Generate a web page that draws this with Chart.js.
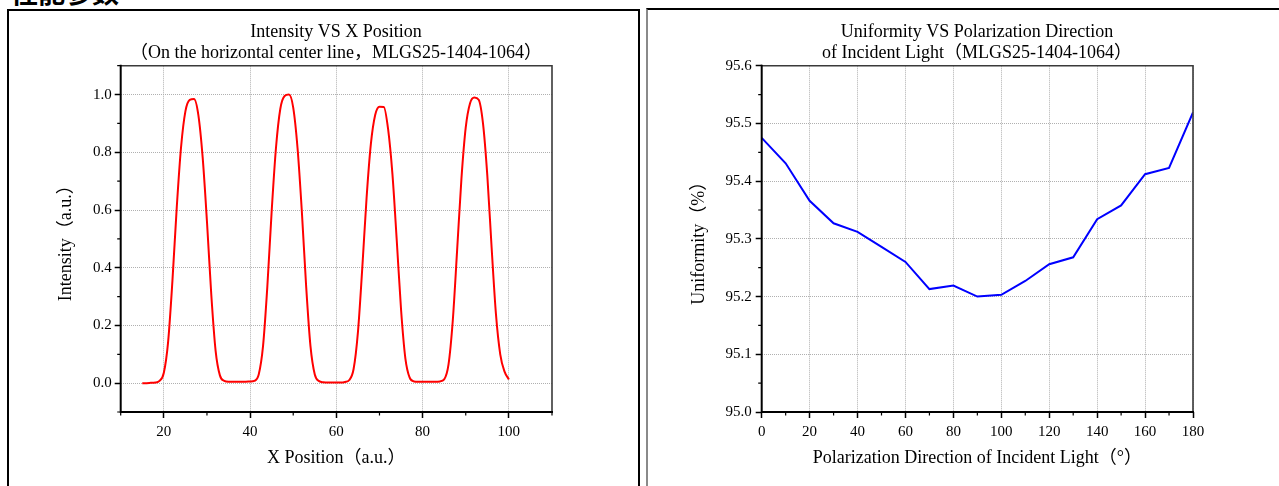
<!DOCTYPE html>
<html><head><meta charset="utf-8">
<script src="https://cdn.jsdelivr.net/npm/chart.js@4.4.1/dist/chart.umd.min.js"></script>
<style>
html,body{margin:0;padding:0;width:1279px;height:486px;overflow:hidden;background:#fff;}
#hdr{position:absolute;left:11px;top:-22px;font:bold 27px/27px "Noto Sans CJK SC",sans-serif;color:#000;white-space:nowrap;}
.panel{position:absolute;box-sizing:border-box;}
#p1{left:7px;top:9px;width:633px;height:520px;border:2px solid #000;border-bottom:none;}
#p2{left:646px;top:8px;width:700px;height:520px;border-top:2px solid #000;border-left:2px solid #8a8a8a;}
canvas{position:absolute;top:0;}
#c1{left:0;}
#c2{left:640px;}
</style></head><body>
<div id="hdr">性能参数</div>
<div class="panel" id="p1"></div>
<div class="panel" id="p2"></div>
<canvas id="c1" width="672" height="486"></canvas>
<canvas id="c2" width="674" height="486"></canvas>
<script>
// ---- Chart 1: Intensity vs X position ----
const xPosition = [15,16,17,18,19,20,21,22,23,24,25,26,27,28,29,30,31,32,33,34,35,36,37,38,39,40,
  41,42,43,44,45,46,47,48,49,50,51,52,53,54,55,56,57,58,59,60,61,62,63,64,65,66,67,68,69,70,
  71,72,73,74,75,76,77,78,79,80,81,82,83,84,85,86,87,88,89,90,91,92,93,94,95,96,97,98,99,100];
const intensity = [0.000,0.000,0.001,0.002,0.008,0.036,0.144,0.356,0.610,0.819,0.942,0.982,0.985,0.930,0.783,0.560,0.307,0.113,0.027,0.008,0.005,0.005,0.005,0.005,0.005,0.006,
  0.008,0.030,0.128,0.335,0.595,0.815,0.950,0.995,1.000,0.955,0.815,0.595,0.335,0.128,0.030,0.007,0.003,0.002,0.002,0.002,0.002,0.004,0.011,0.049,0.176,0.396,0.640,0.828,0.929,0.958,
  0.957,0.880,0.725,0.496,0.255,0.086,0.019,0.006,0.005,0.005,0.005,0.005,0.005,0.006,0.013,0.064,0.218,0.460,0.708,0.886,0.970,0.990,0.982,0.900,0.720,0.470,0.240,0.100,0.040,0.013];
const xPosTicks = [20,40,60,80,100];
const xPosMinorTicks = [10,30,50,70,90,110];
const intensityTicks = [0,0.2,0.4,0.6,0.8,1.0];
const intensityMinorTicks = [-0.1,0.1,0.3,0.5,0.7,0.9,1.1];

// ---- Chart 2: Uniformity vs polarization direction ----
const polarAngle = [0,10,20,30,40,50,60,70,80,90,100,110,120,130,140,150,160,170,180];
const uniformity = [95.475,95.431,95.366,95.327,95.312,95.286,95.260,95.213,95.219,95.200,95.203,95.227,95.256,95.268,95.334,95.358,95.412,95.423,95.519];
const angleTicks = [0,20,40,60,80,100,120,140,160,180];
const angleMinorTicks = [10,30,50,70,90,110,130,150,170];
const uniformityTicks = [95.0,95.1,95.2,95.3,95.4,95.5,95.6];
const uniformityMinorTicks = [95.05,95.15,95.25,95.35,95.45,95.55];

const FONT = '"Liberation Serif", "Noto Sans CJK SC", serif';

const framePlugin = {
  id: 'frame',
  afterDraw(chart, args, opts) {
    const ctx = chart.ctx, a = chart.chartArea, x = chart.scales.x, y = chart.scales.y;
    ctx.save();
    ctx.setLineDash([]);
    ctx.strokeStyle = '#000'; ctx.lineWidth = 1.2;
    ctx.beginPath();
    opts.xMinor.forEach(v => { const p = x.getPixelForValue(v); ctx.moveTo(p, a.bottom); ctx.lineTo(p, a.bottom + 3.5); });
    opts.yMinor.forEach(v => { const p = y.getPixelForValue(v); ctx.moveTo(a.left, p); ctx.lineTo(a.left - 3.5, p); });
    ctx.stroke();
    ctx.strokeStyle = '#3a3a3a'; ctx.lineWidth = 1.6;
    ctx.beginPath(); ctx.moveTo(a.left, a.top); ctx.lineTo(a.right, a.top); ctx.lineTo(a.right, a.bottom); ctx.stroke();
    ctx.strokeStyle = '#000'; ctx.lineWidth = 2;
    ctx.beginPath(); ctx.moveTo(a.left, a.top - 1); ctx.lineTo(a.left, a.bottom); ctx.lineTo(a.right + 1, a.bottom); ctx.stroke();
    ctx.restore();
  }
};

function axis(cfg) {
  return {
    type: 'linear', min: cfg.min, max: cfg.max,
    afterBuildTicks: s => { s.ticks = cfg.ticks.map(v => ({value: v})); },
    afterFit: cfg.fit,
    grid: {color: '#b0b0b0', lineWidth: 1, drawTicks: true, tickLength: 6, tickColor: '#000', tickWidth: 1.5, tickBorderDash: []},
    border: {display: false, dash: [1, 1]},
    ticks: {color: '#000', font: {family: FONT, size: 15}, padding: cfg.pad, autoSkip: false, maxRotation: 0,
            callback: cfg.fmt},
    title: {display: true, text: cfg.title, color: '#000', font: {family: FONT, size: 18, lineHeight: 1.2}, padding: cfg.titlePad}
  };
}

function spacer(w) {
  return {type: 'linear', position: 'right', display: true, afterFit: s => { s.width = w; },
    grid: {display: false, drawTicks: false}, ticks: {display: false}, border: {display: false}, title: {display: false}};
}

function makeChart(id, data, color, cfg) {
  return new Chart(document.getElementById(id), {
    type: 'line',
    data: {datasets: [{data: data, borderColor: color, borderWidth: 2, pointRadius: 0, fill: false,
      cubicInterpolationMode: cfg.smooth ? 'monotone' : 'default', tension: 0}]},
    options: {
      responsive: false, animation: false, devicePixelRatio: 1,
      layout: {padding: 0},
      plugins: {
        legend: {display: false}, tooltip: {enabled: false},
        title: {display: true, text: cfg.title, color: '#000',
          font: {family: FONT, size: 18, lineHeight: 1.17, weight: 'normal'}, padding: {top: 21.5, bottom: 2.1}},
        frame: {xMinor: cfg.xMinor, yMinor: cfg.yMinor}
      },
      scales: {x: cfg.x, y: cfg.y, y2: spacer(cfg.padRight)}
    },
    plugins: [framePlugin]
  });
}

makeChart('c1', xPosition.map((v, i) => ({x: v, y: intensity[i]})), '#ff0000', {
  smooth: true, padRight: 120,
  title: ['Intensity VS X Position', '（On the horizontal center line，MLGS25-1404-1064）'],
  xMinor: xPosMinorTicks, yMinor: intensityMinorTicks,
  x: axis({min: 10, max: 110, ticks: xPosTicks, fit: s => { s.height = 74; }, pad: 5,
           fmt: v => String(v), title: 'X Position（a.u.）', titlePad: {top: 0, bottom: 17.2}}),
  y: axis({min: -0.1, max: 1.1, ticks: intensityTicks, fit: s => { s.width = 120.7; }, pad: 3,
           fmt: v => v.toFixed(1), title: 'Intensity（a.u.）', titlePad: {top: 55.2, bottom: 0}})
});

makeChart('c2', polarAngle.map((v, i) => ({x: v, y: uniformity[i]})), '#0000ff', {
  smooth: false, padRight: 121,
  title: ['Uniformity VS Polarization Direction', 'of Incident Light（MLGS25-1404-1064）'],
  xMinor: angleMinorTicks, yMinor: uniformityMinorTicks,
  x: axis({min: 0, max: 180, ticks: angleTicks, fit: s => { s.height = 74; }, pad: 5,
           fmt: v => String(v), title: 'Polarization Direction of Incident Light（°）', titlePad: {top: 0, bottom: 17.2}}),
  y: axis({min: 95.0, max: 95.6, ticks: uniformityTicks, fit: s => { s.width = 121.7; }, pad: 4,
           fmt: v => v.toFixed(1), title: 'Uniformity（%）', titlePad: {top: 48.2, bottom: 0}})
});
</script>
</body></html>
